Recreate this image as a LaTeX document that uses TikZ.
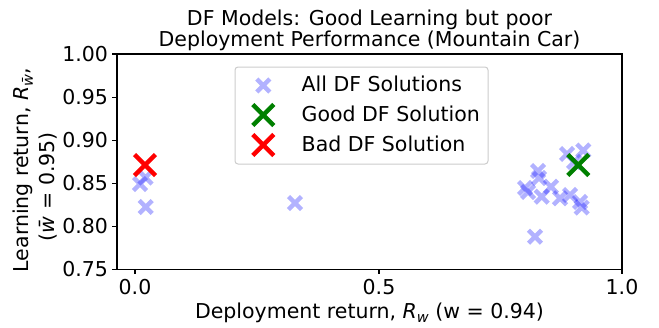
\documentclass[tikz,border=0pt]{standalone}
\usepackage{fontspec}
\setmainfont{DejaVu Sans}
\newcommand\lblfont{\fontsize{20.5}{24}\selectfont}
\newcommand\subfont{\fontsize{14.5}{14.5}\selectfont}
\newcommand\wbar{\textit{w\char"0304}}
\definecolor{mplgreen}{HTML}{008000}
\definecolor{mplred}{HTML}{FF0000}
\tikzset{
  every node/.style={font=\lblfont, inner sep=0pt, outer sep=0pt},
  smallx/.pic={\draw[line width=4.5pt, draw=blue, draw opacity=0.3]
      (-6.5,-6.5) -- (6.5,6.5) (-6.5,6.5) -- (6.5,-6.5);},
  greenx/.pic={\draw[line width=4.5pt, draw=mplgreen]
      (-10.5,-10.5) -- (10.5,10.5) (-10.5,10.5) -- (10.5,-10.5);},
  redx/.pic={\draw[line width=4.5pt, draw=mplred]
      (-10.5,-10.5) -- (10.5,10.5) (-10.5,10.5) -- (10.5,-10.5);},
  axisline/.style={line width=1.1pt, draw=black},
  legendbox/.style={draw=black!20, line width=1pt, rounded corners=3pt,
      fill=white, fill opacity=0.8, minimum width=253pt, minimum height=97pt},
}
\begin{document}
\begin{tikzpicture}[x=1pt,y=-1pt]
\useasboundingbox (0,0) rectangle (659,327);
% title
\node (title1) [anchor=base] at (369.5,25) {DF Models: Good Learning but poor};
\node (title2) [anchor=base] at (369.5,46.7) {Deployment Performance (Mountain Car)};
% data points
\foreach \px/\py in {140/184, 145.5/177.5, 145.7/207, 295/203,
   567/154, 583.3/150.5, 574/162, 538/171, 539/178, 525/188, 528/192,
   541.7/196.7, 551/186.7, 560/198.3, 570/195, 580/202, 581.7/207.5, 535/236.7}
  \pic at (\px,\py) {smallx};
\pic at (578.3,165) {greenx};
\pic at (145,165) {redx};
% axes frame
\draw[axisline] (117,54) rectangle (622,269.3);
% y ticks
\foreach \v/\t in {0/1.00, 1/0.95, 2/0.90, 3/0.85, 4/0.80, 5/0.75} {
  \draw[axisline] (112,54+43.06*\v) -- (117,54+43.06*\v);
  \node[anchor=east] at (108,54+43.06*\v) {\t};
}
% x ticks
\foreach \x/\t in {135/0.0, 379/0.5, 622/1.0} {
  \draw[axisline] (\x,269.3) -- (\x,274.3);
  \node[anchor=base] at (\x,294.5) {\t};
}
% axis labels
\node (xlabel) [anchor=base] at (369.5,318.3)
  {Deployment return, \textit{R}\raisebox{-0.22em}{\subfont\textit{w}} (w = 0.94)};
\node (ylabel1) [rotate=90, anchor=base] at (28.3,170)
  {Learning return, \textit{R}\raisebox{-0.22em}{\subfont\wbar},};
\node (ylabel2) [rotate=90, anchor=base] at (54.3,187)
  {(\wbar{} = 0.95)};
% legend
\node (legend) [legendbox] at (361.5,115.5) {};
\pic at (263.3,85.5) {smallx};
\pic at (263.3,115) {greenx};
\pic at (263.3,145) {redx};
\node (leg1) [anchor=base west] at (301.7,91) {All DF Solutions};
\node (leg2) [anchor=base west] at (301.7,121) {Good DF Solution};
\node (leg3) [anchor=base west] at (301.7,151.7) {Bad DF Solution};
\end{tikzpicture}
\end{document}
